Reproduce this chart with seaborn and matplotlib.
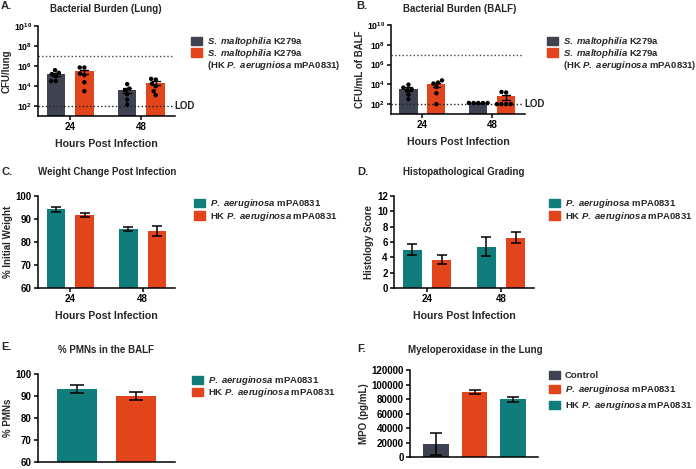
import matplotlib
matplotlib.use("Agg")
import matplotlib.pyplot as plt
from matplotlib.patches import Patch
from matplotlib.ticker import NullLocator
import pandas as pd
import seaborn as sns

# ---- data ----
hours = ["24", "48"]

# A. CFU per lung, one value per mouse
lung_sm_24 = [3.7e5, 2.0e5, 1.5e5, 9.0e4, 3.0e4, 3.0e4]
lung_hk_24 = [6.8e5, 6.8e5, 1.7e5, 1.2e5, 2.3e4, 3.0e3]
lung_sm_48 = [1.5e4, 5.4e3, 3.7e3, 1.5e3, 4.3e2, 1.35e2]
lung_hk_48 = [5.0e4, 4.3e4, 1.7e4, 9.3e3, 3.0e3, 1.2e3]

# B. CFU per mL of BALF
balf_sm_24 = [9.3e3, 4.7e3, 3.2e3, 2.5e3, 9.3e2, 3.2e2]
balf_hk_24 = [2.5e4, 1.5e4, 1.2e4, 5.4e3, 1.26e3, 1.0e2]
balf_sm_48 = [1.3e2, 1.3e2, 1.3e2, 1.3e2, 1.3e2]
balf_hk_48 = [1.7e3, 1.5e3, 1.0e2, 1.0e2, 1.0e2, 1.0e2]

# C. % initial weight (mean, sem)
weight_pa = [94.2, 85.6]
weight_pa_sem = [1.2, 0.95]
weight_hk = [91.6, 84.9]
weight_hk_sem = [0.9, 2.2]

# D. histology score
histo_pa = [5.0, 5.4]
histo_pa_sem = [0.7, 1.28]
histo_hk = [3.7, 6.55]
histo_hk_sem = [0.56, 0.7]

# E. % PMNs
pmn_groups = ["P. aeruginosa mPA0831", "HK P. aeruginosa mPA0831"]
pmn_mean = [93.1, 90.1]
pmn_sem = [1.8, 1.9]

# F. MPO
mpo_groups = ["Control", "P. aeruginosa mPA0831", "HK P. aeruginosa mPA0831"]
mpo_mean = [17500, 89500, 79400]
mpo_sem = [15000, 2800, 3700]

DARK = "#3f4250"
ORANGE = "#e2441c"
TEAL = "#107c7b"

sns.set_style("ticks")
plt.rcParams["font.family"] = ["Liberation Sans", "DejaVu Sans"]
plt.rcParams["font.weight"] = "bold"
plt.rcParams["axes.labelweight"] = "bold"
plt.rcParams["mathtext.fontset"] = "custom"
plt.rcParams["mathtext.rm"] = "Liberation Sans:bold"
plt.rcParams["mathtext.bf"] = "Liberation Sans:bold"
plt.rcParams["mathtext.it"] = "Liberation Sans:bold:italic"

W, H = 696, 469
fig = plt.figure(figsize=(W / 100, H / 100), dpi=100)


def add_ax(l, r, t, b):
    return fig.add_axes([l / W, 1 - b / H, (r - l) / W, (b - t) / H])


def style(ax):
    sns.despine(ax=ax)
    for s in ["left", "bottom"]:
        ax.spines[s].set_linewidth(1.1)
        ax.spines[s].set_color("black")
    ax.tick_params(width=1.1, length=3, labelsize=7, pad=1.5, colors="black")


def ftext(x, y, s, **kw):
    fig.text(x / W, 1 - y / H, s, fontweight="bold", va="baseline", **kw)


def legend(handles, labels, x, y, spacing):
    fig.legend(handles, labels, loc="upper left",
               bbox_to_anchor=(x / W, 1 - y / H), frameon=False,
               prop={"weight": "bold", "size": 6.8}, handlelength=1.2,
               handleheight=1.0, handletextpad=0.45, labelspacing=spacing,
               borderpad=0, borderaxespad=0)


def long_df(groups):
    rows = [(h, g, v) for h, g, vals in groups for v in vals]
    return pd.DataFrame(rows, columns=["hours", "group", "value"])


def add_errbars(ax, sems, capsize=3.5):
    bars = [p for p in ax.patches if p.get_height() > 0]
    for p, s in zip(bars, sems):
        ax.errorbar(p.get_x() + p.get_width() / 2, p.get_height(), yerr=s,
                    color="black", lw=1.1, capsize=capsize, capthick=1.1)


def it(word):
    return r"$\mathit{%s}$" % word


sm = it("S.") + " " + it("maltophilia") + " K279a"
pa = it("P.") + " " + it("aeruginosa") + " mPA0831"
hk = "HK " + pa
blank = Patch(color="none")


def cfu_panel(ax, df, ylabel):
    order = ["sm", "hk"]
    sns.barplot(data=df, x="hours", y="value", hue="group", order=hours,
                hue_order=order, palette=[DARK, ORANGE], saturation=1,
                errorbar="se", capsize=0.22,
                err_kws={"color": "black", "linewidth": 1.0},
                width=0.8, gap=0.35, linewidth=0, legend=False, ax=ax)
    ax.set_yscale("log")
    sns.swarmplot(data=df, x="hours", y="value", hue="group", order=hours,
                  hue_order=order, palette=["black", "black"], dodge=True,
                  size=3.2, legend=False, ax=ax)
    ax.set_ylim(10, 1e10)
    ax.set_xlim(-0.45, 1.47)
    ticks = [1e2, 1e4, 1e6, 1e8, 1e10]
    ax.set_yticks(ticks, [r"$\mathbf{10^{%d}}$" % e for e in (2, 4, 6, 8, 10)])
    ax.yaxis.set_minor_locator(NullLocator())
    ax.axhline(1e7, ls=":", color="#444444", lw=1.0, xmax=0.98)
    ax.axhline(1e2, ls=":", color="#222222", lw=1.0, xmax=0.98)
    ax.text(0.995, 1e2, "LOD", transform=ax.get_yaxis_transform(),
            va="center", ha="left", fontsize=7, fontweight="bold")
    ax.set_xlabel("Hours Post Infection", fontsize=7.6, labelpad=5)
    ax.set_ylabel(ylabel, fontsize=7, labelpad=1.5)
    style(ax)
    ax.tick_params(axis="y", labelsize=6.3, pad=1)


# ---- A ----
axA = add_ax(38, 175, 25.7, 116)
lung = long_df([("24", "sm", lung_sm_24), ("24", "hk", lung_hk_24),
                ("48", "sm", lung_sm_48), ("48", "hk", lung_hk_48)])
cfu_panel(axA, lung, "CFU/lung")
ftext(1, 9, "A.", fontsize=8)
ftext(106, 11.5, "Bacterial Burden (Lung)", fontsize=7, ha="center")
legend([Patch(color=DARK), Patch(color=ORANGE), blank],
       [sm, sm, "(HK " + it("P.") + " " + it("aerugniosa") + " mPA0831)"],
       191, 35, -0.12)

# ---- B ----
axB = add_ax(391, 525, 25, 114)
balf = long_df([("24", "sm", balf_sm_24), ("24", "hk", balf_hk_24),
                ("48", "sm", balf_sm_48), ("48", "hk", balf_hk_48)])
cfu_panel(axB, balf, "CFU/mL of BALF")
ftext(356, 9, "B.", fontsize=8)
ftext(460, 12, "Bacterial Burden (BALF)", fontsize=7, ha="center")
legend([Patch(color=DARK), Patch(color=ORANGE), blank],
       [sm, sm, "(HK " + pa + ")"], 547, 35, -0.12)


def grouped_panel(ax, vals_pa, sems_pa, vals_hk, sems_hk, ylabel):
    df = pd.DataFrame({"hours": hours * 2,
                       "group": ["pa"] * 2 + ["hk"] * 2,
                       "value": vals_pa + vals_hk})
    sns.barplot(data=df, x="hours", y="value", hue="group", order=hours,
                hue_order=["pa", "hk"], palette=[TEAL, ORANGE], saturation=1,
                errorbar=None, width=0.8, gap=0.35, linewidth=0,
                legend=False, ax=ax)
    add_errbars(ax, sems_pa + sems_hk)
    ax.set_xlim(-0.45, 1.45)
    ax.set_xlabel("Hours Post Infection", fontsize=7.6, labelpad=5)
    ax.set_ylabel(ylabel, fontsize=7, labelpad=2)
    style(ax)


# ---- C ----
axC = add_ax(38, 175, 196, 288)
grouped_panel(axC, weight_pa, weight_pa_sem, weight_hk, weight_hk_sem,
              "% Initial Weight")
axC.set_ylim(60, 100)
axC.set_yticks([60, 70, 80, 90, 100])
ftext(1, 175, "C.", fontsize=8)
ftext(107, 175, "Weight Change Post Infection", fontsize=7, ha="center")
legend([Patch(color=TEAL), Patch(color=ORANGE)], [pa, hk], 194, 197, -0.05)

# ---- D ----
axD = add_ax(394, 534, 196, 288)
grouped_panel(axD, histo_pa, histo_pa_sem, histo_hk, histo_hk_sem,
              "Histology Score")
axD.set_ylim(0, 12)
axD.set_yticks([0, 2, 4, 6, 8, 10, 12])
ftext(357, 175, "D.", fontsize=8)
ftext(464, 175, "Histopathological Grading", fontsize=7, ha="center")
legend([Patch(color=TEAL), Patch(color=ORANGE)], [pa, hk], 549, 197, -0.05)

# ---- E ----
axE = add_ax(38, 175, 374, 462)
pmn = pd.DataFrame({"group": pmn_groups, "value": pmn_mean})
sns.barplot(data=pmn, x="group", y="value", hue="group", order=pmn_groups,
            palette=[TEAL, ORANGE], saturation=1, errorbar=None, width=0.68,
            linewidth=0, legend=False, ax=axE)
add_errbars(axE, pmn_sem, capsize=5)
axE.set_xlim(-0.66, 1.66)
axE.set_ylim(60, 100)
axE.set_yticks([60, 70, 80, 90, 100])
axE.set_xticks([])
axE.set_xlabel("")
axE.set_ylabel("% PMNs", fontsize=7, labelpad=2)
style(axE)
ftext(1, 350, "E.", fontsize=8)
ftext(106, 353, "% PMNs in the BALF", fontsize=7, ha="center")
legend([Patch(color=TEAL), Patch(color=ORANGE)], [pa, hk], 192, 374, -0.1)

# ---- F ----
axF = add_ax(410, 538, 370, 457)
mpo = pd.DataFrame({"group": mpo_groups, "value": mpo_mean})
sns.barplot(data=mpo, x="group", y="value", hue="group", order=mpo_groups,
            palette=[DARK, ORANGE, TEAL], saturation=1, errorbar=None,
            width=0.67, linewidth=0, legend=False, ax=axF)
add_errbars(axF, mpo_sem, capsize=4)
axF.set_xlim(-0.68, 2.65)
axF.set_ylim(0, 120000)
yt = [0, 20000, 40000, 60000, 80000, 100000, 120000]
axF.set_yticks(yt, [str(v) for v in yt])
axF.set_xticks([])
axF.set_xlabel("")
axF.set_ylabel("MPO (pg/mL)", fontsize=7, labelpad=2)
style(axF)
ftext(357, 352, "F.", fontsize=8)
ftext(475, 353, "Myeloperoxidase in the Lung", fontsize=7, ha="center")
legend([Patch(color=DARK), Patch(color=ORANGE), Patch(color=TEAL)],
       ["Control", pa, hk], 549, 371, 0.3)

fig.savefig("out.png", dpi=100)
